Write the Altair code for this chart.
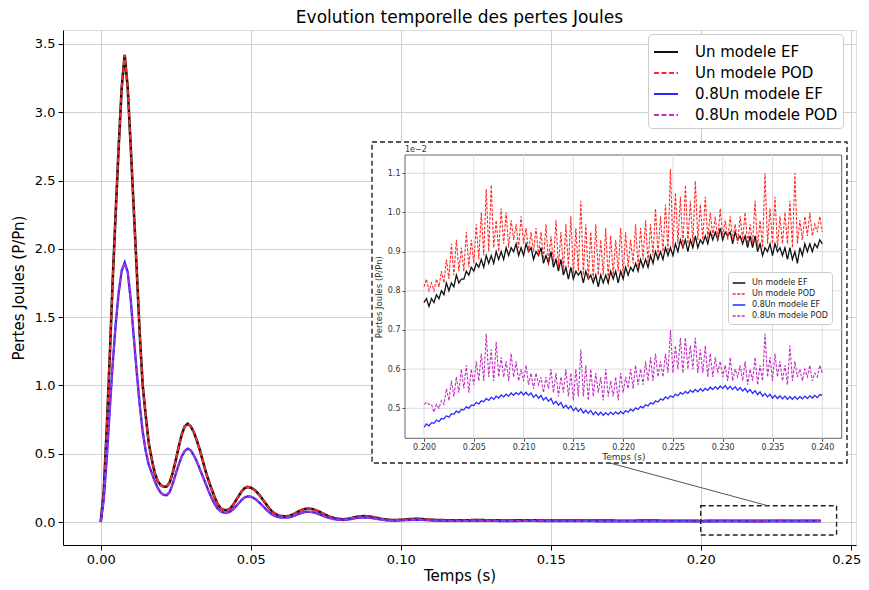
import altair as alt
import pandas as pd

FONT = "DejaVu Sans"

# ---------------- data ----------------
names = ["Un modele EF", "Un modele POD", "0.8Un modele EF", "0.8Un modele POD"]
colors = ["#111111", "#ff2a2a", "#2a2aff", "#c030c0"]
dashes = [[1, 0], [5, 2.5], [1, 0], [5, 2.5]]

# main view: time grid (s)
t_main = [i / 1000 for i in range(0, 111)] + [0.115, 0.12, 0.125, 0.13, 0.135, 0.14, 0.145, 0.15, 0.155,
                                               0.16, 0.165, 0.17, 0.175, 0.18, 0.185, 0.19, 0.195]

un_main = [0.0, 0.22, 0.68, 1.20, 1.77, 2.27, 2.75, 3.18, 3.42, 3.18,
           2.75, 2.30, 1.85, 1.38, 1.00, 0.78, 0.58, 0.46, 0.36, 0.30,
           0.27, 0.258, 0.26, 0.29, 0.36, 0.45, 0.55, 0.64, 0.70, 0.72,
           0.70, 0.66, 0.60, 0.53, 0.45, 0.37, 0.30, 0.24, 0.18, 0.13,
           0.10, 0.088, 0.087, 0.095, 0.12, 0.155, 0.19, 0.225, 0.248, 0.257,
           0.252, 0.24, 0.22, 0.195, 0.165, 0.135, 0.105, 0.08, 0.062, 0.05,
           0.044, 0.042, 0.042, 0.046, 0.055, 0.066, 0.078, 0.088, 0.095, 0.098,
           0.097, 0.092, 0.084, 0.074, 0.063, 0.052, 0.042, 0.034, 0.027, 0.023,
           0.021, 0.02, 0.022, 0.026, 0.031, 0.036, 0.04, 0.042, 0.043, 0.042,
           0.039, 0.035, 0.03, 0.025, 0.021, 0.018, 0.016, 0.015, 0.015, 0.015,
           0.016, 0.017, 0.019, 0.021, 0.022, 0.023, 0.023, 0.022, 0.02, 0.018,
           0.016,
           0.013, 0.012, 0.014, 0.013, 0.011, 0.012, 0.012, 0.010, 0.011, 0.011,
           0.010, 0.010, 0.009, 0.010, 0.010, 0.009, 0.009]

u08_main = [0.0, 0.16, 0.46, 0.82, 1.16, 1.45, 1.68, 1.84, 1.90, 1.83,
            1.63, 1.36, 1.10, 0.86, 0.66, 0.52, 0.42, 0.36, 0.30, 0.25,
            0.215, 0.198, 0.196, 0.22, 0.28, 0.35, 0.42, 0.48, 0.52, 0.537,
            0.525, 0.49, 0.445, 0.39, 0.335, 0.28, 0.225, 0.175, 0.13, 0.098,
            0.078, 0.069, 0.068, 0.074, 0.09, 0.113, 0.138, 0.162, 0.18, 0.188,
            0.185, 0.176, 0.16, 0.14, 0.118, 0.095, 0.074, 0.057, 0.045, 0.037,
            0.033, 0.032, 0.032, 0.035, 0.042, 0.05, 0.059, 0.067, 0.073, 0.075,
            0.074, 0.07, 0.063, 0.055, 0.046, 0.038, 0.031, 0.025, 0.02, 0.017,
            0.016, 0.015, 0.017, 0.02, 0.024, 0.028, 0.031, 0.032, 0.033, 0.032,
            0.03, 0.027, 0.023, 0.019, 0.016, 0.013, 0.012, 0.011, 0.011, 0.011,
            0.012, 0.013, 0.014, 0.015, 0.016, 0.017, 0.017, 0.016, 0.015, 0.013,
            0.012,
            0.009, 0.008, 0.009, 0.009, 0.007, 0.008, 0.008, 0.007, 0.007, 0.007,
            0.006, 0.006, 0.006, 0.006, 0.006, 0.005, 0.005]

# zoom window 0.200 .. 0.240 s, values in 1e-2 P/Pn
t_zoom = [round(0.2 + i * 0.00025, 5) for i in range(161)]

un_ef_zoom = [
    0.77, 0.78, 0.76, 0.78, 0.77, 0.79, 0.78, 0.80, 0.79, 0.82, 0.80, 0.82,
    0.81, 0.84, 0.82, 0.83, 0.83, 0.85, 0.84, 0.86, 0.85, 0.87, 0.86, 0.88,
    0.86, 0.89, 0.87, 0.89, 0.87, 0.90, 0.88, 0.90, 0.88, 0.91, 0.89, 0.91,
    0.90, 0.92, 0.89, 0.91, 0.89, 0.92, 0.90, 0.91, 0.88, 0.90, 0.89, 0.91,
    0.87, 0.89, 0.87, 0.90, 0.86, 0.88, 0.85, 0.88, 0.84, 0.86, 0.83, 0.86,
    0.83, 0.85, 0.84, 0.85, 0.82, 0.85, 0.83, 0.84, 0.82, 0.84, 0.81, 0.84,
    0.82, 0.84, 0.82, 0.85, 0.83, 0.85, 0.82, 0.85, 0.83, 0.86, 0.84, 0.86,
    0.85, 0.87, 0.85, 0.88, 0.86, 0.88, 0.86, 0.89, 0.87, 0.90, 0.88, 0.90,
    0.88, 0.91, 0.89, 0.91, 0.89, 0.92, 0.90, 0.93, 0.91, 0.93, 0.90, 0.93,
    0.91, 0.94, 0.91, 0.93, 0.92, 0.94, 0.92, 0.95, 0.93, 0.95, 0.93, 0.96,
    0.93, 0.95, 0.94, 0.95, 0.92, 0.95, 0.93, 0.94, 0.92, 0.94, 0.91, 0.94,
    0.91, 0.94, 0.90, 0.92, 0.89, 0.91, 0.90, 0.92, 0.89, 0.92, 0.90, 0.91,
    0.89, 0.91, 0.88, 0.91, 0.88, 0.90, 0.87, 0.91, 0.89, 0.92, 0.90, 0.92,
    0.90, 0.92, 0.91, 0.93, 0.92]

un_pod_zoom = [
    0.81, 0.83, 0.80, 0.82, 0.80, 0.83, 0.81, 0.85, 0.82, 0.88, 0.83, 0.92,
    0.84, 0.93, 0.85, 0.91, 0.85, 0.95, 0.86, 0.93, 0.87, 0.97, 0.88, 1.00,
    0.89, 1.06, 0.90, 1.07, 0.91, 0.98, 0.90, 1.01, 0.92, 1.00, 0.91, 0.98,
    0.93, 0.97, 0.91, 0.99, 0.92, 0.96, 0.90, 0.95, 0.90, 0.96, 0.89, 0.95,
    0.88, 0.97, 0.87, 0.94, 0.87, 0.98, 0.86, 0.95, 0.85, 0.97, 0.86, 0.99,
    0.84, 0.96, 0.85, 1.03, 0.84, 0.97, 0.83, 0.95, 0.83, 0.97, 0.84, 0.93,
    0.84, 0.96, 0.83, 0.94, 0.84, 0.93, 0.85, 0.96, 0.84, 0.95, 0.86, 0.93,
    0.87, 0.97, 0.86, 0.96, 0.88, 0.98, 0.87, 0.97, 0.89, 1.01, 0.89, 0.99,
    0.90, 1.02, 0.90, 1.11, 0.91, 1.05, 0.92, 1.04, 0.91, 1.07, 0.92, 1.03,
    0.92, 1.08, 0.93, 1.02, 0.93, 1.04, 0.93, 1.00, 0.94, 0.99, 0.93, 1.01,
    0.94, 0.98, 0.93, 0.99, 0.93, 0.97, 0.92, 0.99, 0.93, 1.00, 0.92, 0.97,
    0.92, 1.03, 0.91, 0.98, 0.91, 1.10, 0.92, 1.01, 0.92, 1.04, 0.91, 0.99,
    0.92, 1.00, 0.92, 1.03, 0.91, 1.10, 0.92, 0.98, 0.93, 0.99, 0.94, 1.00,
    0.94, 0.97, 0.95, 0.99, 0.95]

u08_ef_zoom = [
    0.452, 0.460, 0.455, 0.463, 0.462, 0.470, 0.466, 0.474, 0.473, 0.481, 0.477, 0.486,
    0.485, 0.493, 0.489, 0.497, 0.496, 0.504, 0.500, 0.508, 0.507, 0.515, 0.511, 0.519,
    0.517, 0.525, 0.520, 0.528, 0.523, 0.531, 0.526, 0.534, 0.529, 0.536, 0.531, 0.539,
    0.533, 0.540, 0.535, 0.542, 0.534, 0.541, 0.533, 0.539, 0.528, 0.535, 0.526, 0.533,
    0.521, 0.528, 0.518, 0.525, 0.511, 0.518, 0.508, 0.515, 0.501, 0.508, 0.499, 0.506,
    0.494, 0.501, 0.492, 0.499, 0.488, 0.495, 0.487, 0.494, 0.484, 0.491, 0.483, 0.490,
    0.482, 0.489, 0.483, 0.490, 0.484, 0.491, 0.485, 0.492, 0.486, 0.494, 0.490, 0.498,
    0.493, 0.501, 0.497, 0.505, 0.501, 0.509, 0.506, 0.514, 0.511, 0.519, 0.516, 0.524,
    0.521, 0.529, 0.524, 0.532, 0.528, 0.536, 0.532, 0.540, 0.536, 0.543, 0.538, 0.546,
    0.541, 0.548, 0.542, 0.550, 0.544, 0.551, 0.546, 0.554, 0.548, 0.555, 0.549, 0.557,
    0.551, 0.558, 0.549, 0.556, 0.548, 0.555, 0.546, 0.553, 0.544, 0.551, 0.541, 0.548,
    0.538, 0.545, 0.535, 0.542, 0.531, 0.538, 0.529, 0.536, 0.526, 0.533, 0.525, 0.532,
    0.524, 0.531, 0.523, 0.530, 0.523, 0.530, 0.523, 0.530, 0.524, 0.531, 0.525, 0.532,
    0.526, 0.533, 0.527, 0.535, 0.533]

u08_pod_zoom = [
    0.51, 0.515, 0.51, 0.51, 0.49, 0.51, 0.50, 0.52, 0.51, 0.55, 0.52, 0.57,
    0.53, 0.58, 0.54, 0.60, 0.55, 0.61, 0.54, 0.60, 0.56, 0.62, 0.57, 0.64,
    0.57, 0.69, 0.58, 0.65, 0.57, 0.67, 0.58, 0.63, 0.58, 0.62, 0.57, 0.64,
    0.58, 0.62, 0.57, 0.60, 0.57, 0.61, 0.56, 0.59, 0.55, 0.59, 0.56, 0.58,
    0.54, 0.58, 0.55, 0.60, 0.54, 0.59, 0.53, 0.58, 0.54, 0.60, 0.53, 0.59,
    0.52, 0.60, 0.53, 0.65, 0.53, 0.61, 0.52, 0.60, 0.53, 0.59, 0.54, 0.58,
    0.52, 0.60, 0.53, 0.57, 0.53, 0.58, 0.52, 0.59, 0.54, 0.58, 0.55, 0.60,
    0.55, 0.61, 0.56, 0.60, 0.56, 0.62, 0.57, 0.63, 0.57, 0.64, 0.58, 0.62,
    0.58, 0.64, 0.59, 0.70, 0.59, 0.66, 0.60, 0.68, 0.59, 0.68, 0.60, 0.66,
    0.60, 0.68, 0.59, 0.65, 0.59, 0.66, 0.58, 0.64, 0.58, 0.63, 0.59, 0.62,
    0.58, 0.61, 0.57, 0.63, 0.57, 0.60, 0.58, 0.61, 0.57, 0.62, 0.56, 0.60,
    0.57, 0.63, 0.56, 0.61, 0.57, 0.69, 0.58, 0.63, 0.57, 0.64, 0.58, 0.62,
    0.57, 0.61, 0.56, 0.66, 0.57, 0.62, 0.58, 0.60, 0.57, 0.60, 0.58, 0.61,
    0.57, 0.59, 0.58, 0.61, 0.59]

main_x_ticks = [0.0, 0.05, 0.1, 0.15, 0.2, 0.25]
main_y_ticks = [0.0, 0.5, 1.0, 1.5, 2.0, 2.5, 3.0, 3.5]
zoom_x_ticks = [0.2, 0.205, 0.21, 0.215, 0.22, 0.225, 0.23, 0.235, 0.24]
zoom_y_ticks = [0.5, 0.6, 0.7, 0.8, 0.9, 1.0, 1.1]

# ---------------- tables ----------------
main_series = {
    names[0]: un_main + [v * 0.01 for v in un_ef_zoom],
    names[1]: un_main + [v * 0.01 for v in un_pod_zoom],
    names[2]: u08_main + [v * 0.01 for v in u08_ef_zoom],
    names[3]: u08_main + [v * 0.01 for v in u08_pod_zoom],
}
t_full = t_main + t_zoom
df_main = pd.concat([pd.DataFrame({"t": t_full, "v": vals, "serie": n}) for n, vals in main_series.items()])

zoom_series = {names[0]: un_ef_zoom, names[1]: un_pod_zoom, names[2]: u08_ef_zoom, names[3]: u08_pod_zoom}
df_zoom = pd.concat([pd.DataFrame({"t": t_zoom, "v": vals, "courbe": n}) for n, vals in zoom_series.items()])

# ---------------- geometry ----------------
W, H = 793, 515
X_DOM = [-0.01257, 0.25177]
Y_DOM = [-0.1684, 3.6025]
IX_DOM = [0.19809, 0.24195]
IY_DOM = [0.4234, 1.1467]
IX_RANGE = [342, 778.7]
IY_RANGE = [408.3, 125]

# ---------------- main view ----------------
ax_x = alt.Axis(values=main_x_ticks, format=".2f", title="Temps (s)", grid=True, gridColor="#d0d0d0",
                labelFontSize=13, titleFontSize=15, labelFont=FONT, titleFont=FONT, titleFontWeight="normal",
                tickSize=5, tickColor="black", domainColor="black", labelColor="black", titleColor="black",
                labelPadding=3, titlePadding=2, labelFlush=10, labelFlushOffset=10)
ax_y = alt.Axis(values=main_y_ticks, format=".1f", title="Pertes Joules (P/Pn)", grid=True, gridColor="#d0d0d0",
                labelFontSize=13, titleFontSize=15, labelFont=FONT, titleFont=FONT, titleFontWeight="normal",
                tickSize=5, tickColor="black", domainColor="black", labelColor="black", titleColor="black",
                labelPadding=3, titlePadding=8)
xs = alt.Scale(domain=X_DOM, nice=False, zero=False)
ys = alt.Scale(domain=Y_DOM, nice=False, zero=False)

main_legend = alt.Legend(orient="none", legendX=585, legendY=4, title=None, labelFontSize=15, labelFont=FONT,
                         labelColor="black", symbolType="stroke", symbolSize=576, symbolStrokeWidth=2,
                         fillColor="white", strokeColor="#cccccc", cornerRadius=4, padding=5,
                         rowPadding=-1, labelOffset=16, labelLimit=400)
col_scale = alt.Scale(domain=names, range=colors)
dash_scale = alt.Scale(domain=names, range=dashes)

widths = [2.6, 2.0, 2.4, 1.8]
main_layers = []
for n, w in zip(names, widths):
    main_layers.append(
        alt.Chart(df_main).transform_filter(alt.datum.serie == n).mark_line(strokeWidth=w).encode(
            x=alt.X("t:Q", scale=xs, axis=ax_x),
            y=alt.Y("v:Q", scale=ys, axis=ax_y),
            color=alt.Color("serie:N", scale=col_scale, legend=main_legend),
            strokeDash=alt.StrokeDash("serie:N", scale=dash_scale, legend=main_legend),
        )
    )

zoom_box = pd.DataFrame({"x": [0.2], "x2": [0.2453], "y": [-0.095], "y2": [0.119]})
box_layer = alt.Chart(zoom_box).mark_rect(fillOpacity=0, stroke="#222", strokeWidth=1.4, strokeDash=[5, 3]).encode(
    x=alt.X("x:Q", scale=xs, axis=ax_x), x2="x2:Q", y=alt.Y("y:Q", scale=ys, axis=ax_y), y2="y2:Q")

connector = pd.DataFrame({"x": [0.1698], "x2": [0.2224], "y": [0.432], "y2": [0.119]})
conn_layer = alt.Chart(connector).mark_rule(color="#555", strokeWidth=1).encode(
    x=alt.X("x:Q", scale=xs, axis=ax_x), x2="x2:Q", y=alt.Y("y:Q", scale=ys, axis=ax_y), y2="y2:Q")

main = alt.layer(*main_layers, box_layer, conn_layer)

# ---------------- inset ----------------
ixs = alt.Scale(domain=IX_DOM, range=IX_RANGE, nice=False, zero=False)
iys = alt.Scale(domain=IY_DOM, range=IY_RANGE, nice=False, zero=False)
iax_x = alt.Axis(orient="bottom", offset=-(H - IY_RANGE[0]), values=zoom_x_ticks, format=".3f",
                 title="Temps (s)", labelFontSize=8, titleFontSize=9, labelFont=FONT, titleFont=FONT,
                 titleFontWeight="normal", tickSize=3, domain=False, grid=False, zindex=2,
                 labelColor="#333", titleColor="#333", tickColor="#555", labelPadding=2, titlePadding=1)
iax_y = alt.Axis(orient="left", offset=-IX_RANGE[0], values=zoom_y_ticks, format=".1f",
                 title="Pertes Joules (P/Pn)", labelFontSize=8, titleFontSize=8.5, labelFont=FONT, titleFont=FONT,
                 titleFontWeight="normal", tickSize=3, domain=False, grid=False, zindex=2,
                 labelColor="#333", titleColor="#333", tickColor="#555", labelPadding=2, titlePadding=4)

outer = pd.DataFrame({"x": [0.19478], "x2": [0.24248], "y": [0.3604], "y2": [1.1799]})
outer_layer = alt.Chart(outer).mark_rect(fill="white", stroke="#222", strokeWidth=1.4, strokeDash=[5, 3]).encode(
    x=alt.X("x:Q", scale=ixs, axis=iax_x), x2="x2:Q", y=alt.Y("y:Q", scale=iys, axis=iax_y), y2="y2:Q")

frame = pd.DataFrame({"x": [IX_DOM[0]], "x2": [IX_DOM[1]], "y": [IY_DOM[0]], "y2": [IY_DOM[1]]})
frame_layer = alt.Chart(frame).mark_rect(fill="white", stroke="#666", strokeWidth=1).encode(
    x=alt.X("x:Q", scale=ixs, axis=iax_x), x2="x2:Q", y=alt.Y("y:Q", scale=iys, axis=iax_y), y2="y2:Q")

vgrid = alt.Chart(pd.DataFrame({"x": zoom_x_ticks})).mark_rule(color="#dcdcdc", strokeWidth=1).encode(
    x=alt.X("x:Q", scale=ixs, axis=iax_x),
    y=alt.datum(IY_DOM[0], scale=iys, axis=iax_y), y2=alt.datum(IY_DOM[1]))
hgrid = alt.Chart(pd.DataFrame({"y": zoom_y_ticks})).mark_rule(color="#dcdcdc", strokeWidth=1).encode(
    y=alt.Y("y:Q", scale=iys, axis=iax_y),
    x=alt.datum(IX_DOM[0], scale=ixs, axis=iax_x), x2=alt.datum(IX_DOM[1]))

inset_legend = alt.Legend(orient="none", legendX=665, legendY=242, title=None, labelFontSize=8, labelFont=FONT,
                          labelColor="#222", symbolType="stroke", symbolSize=160, symbolStrokeWidth=1.3,
                          fillColor="white", strokeColor="#cccccc", cornerRadius=3, padding=4,
                          rowPadding=0, labelOffset=6, labelLimit=300)
icol_scale = alt.Scale(domain=names, range=colors)
idash_scale = alt.Scale(domain=names, range=[[1, 0], [3, 1.5], [1, 0], [3, 1.5]])

inset_lines = []
for n, w in zip(names, [1.3, 1.1, 1.3, 1.1]):
    inset_lines.append(
        alt.Chart(df_zoom).transform_filter(alt.datum.courbe == n).mark_line(strokeWidth=w).encode(
            x=alt.X("t:Q", scale=ixs, axis=iax_x),
            y=alt.Y("v:Q", scale=iys, axis=iax_y),
            color=alt.Color("courbe:N", scale=icol_scale, legend=inset_legend),
            strokeDash=alt.StrokeDash("courbe:N", scale=idash_scale, legend=inset_legend),
        )
    )

exp_text = alt.Chart(pd.DataFrame({"x": [IX_DOM[0]], "y": [IY_DOM[1]], "txt": ["1e\u22122"]})).mark_text(
    align="left", baseline="bottom", dy=-1, fontSize=8, font=FONT, color="#333").encode(
    x=alt.X("x:Q", scale=ixs, axis=iax_x), y=alt.Y("y:Q", scale=iys, axis=iax_y), text="txt:N")

inset = alt.layer(outer_layer, frame_layer, vgrid, hgrid, *inset_lines, exp_text)

chart = alt.layer(main, inset).resolve_scale(
    x="independent", y="independent", color="independent", strokeDash="independent"
).resolve_axis(x="independent", y="independent").resolve_legend(
    color="independent", strokeDash="independent"
).properties(
    width=W, height=H,
    padding={"left": 55, "top": 22, "right": 5, "bottom": 42},
    autosize=alt.AutoSizeParams(type="none"),
    title=alt.TitleParams("Evolution temporelle des pertes Joules", fontSize=17, font=FONT,
                          fontWeight="normal", color="black", offset=3, anchor="middle"),
).configure_view(stroke="black", strokeWidth=1.2).configure(background="white")

chart.save("out.html", embed_options={"renderer": "svg", "actions": False})
